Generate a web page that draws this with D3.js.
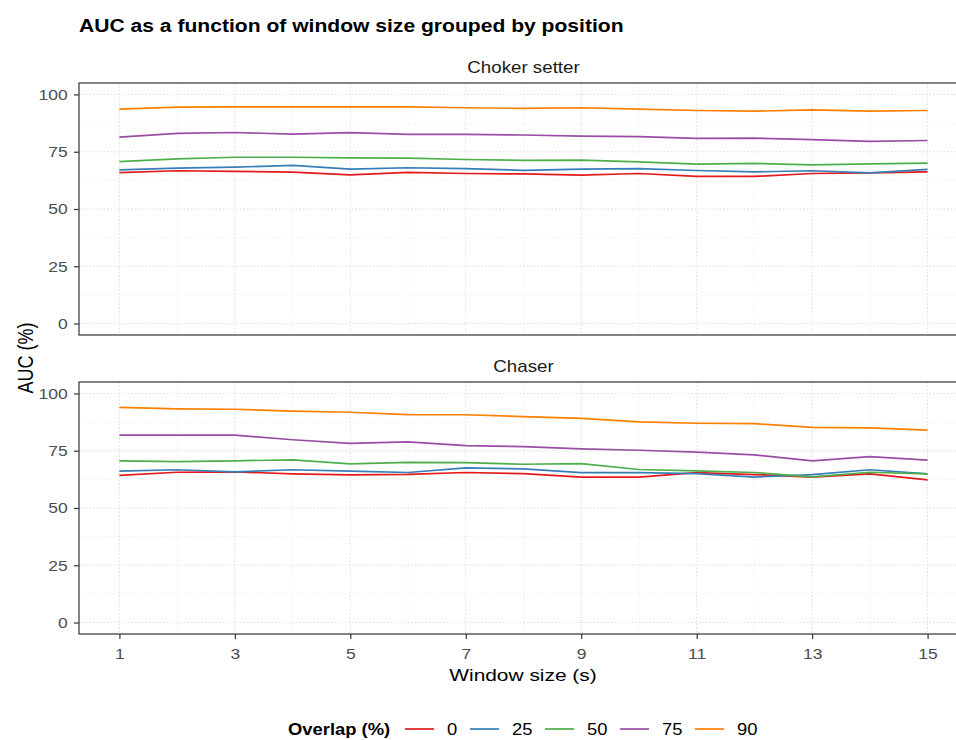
<!DOCTYPE html>
<html>
<head>
<meta charset="utf-8">
<script src="https://cdn.jsdelivr.net/npm/d3@7.9.0/dist/d3.min.js"></script>
<style>
  body { margin: 0; background: #fff; }
  svg { font-family: "Liberation Sans", Arial, sans-serif; display: block; }
</style>
</head>
<body>
<svg id="chart" width="956" height="740"></svg>
<script>
const windowSizes = [1, 2, 3, 4, 5, 6, 7, 8, 9, 10, 11, 12, 13, 14, 15];
const overlaps = ['0', '25', '50', '75', '90'];
const positions = ['Choker setter', 'Chaser'];
const yTicks = [0, 25, 50, 75, 100];
const xTicks = [1, 3, 5, 7, 9, 11, 13, 15];

// AUC (%) per overlap, one value per window size
const chokerSetter = {
  '0':  [65.9, 66.7, 66.4, 66.1, 64.9, 66.0, 65.5, 65.3, 64.8, 65.5, 64.2, 64.2, 65.5, 65.8, 66.2],
  '25': [67.1, 67.8, 68.3, 69.0, 67.4, 68.0, 67.6, 66.9, 67.4, 67.6, 66.8, 66.2, 66.7, 65.8, 67.3],
  '50': [70.7, 71.9, 72.6, 72.6, 72.3, 72.2, 71.6, 71.2, 71.3, 70.6, 69.6, 69.9, 69.3, 69.7, 70.0],
  '75': [81.4, 83.0, 83.4, 82.7, 83.3, 82.6, 82.6, 82.3, 81.8, 81.6, 80.8, 80.9, 80.3, 79.5, 79.9],
  '90': [93.6, 94.5, 94.6, 94.6, 94.6, 94.6, 94.2, 93.9, 94.2, 93.6, 93.0, 92.7, 93.3, 92.7, 93.0]
};
const chaser = {
  '0':  [64.2, 65.6, 65.8, 64.9, 64.5, 64.7, 65.5, 65.0, 63.5, 63.5, 65.4, 64.6, 63.5, 64.9, 62.3],
  '25': [66.1, 66.7, 65.8, 66.7, 66.1, 65.5, 67.5, 67.1, 65.4, 65.4, 65.0, 63.5, 64.6, 66.7, 64.9],
  '50': [70.6, 70.2, 70.6, 71.0, 69.3, 69.9, 69.8, 69.1, 69.4, 66.8, 66.2, 65.5, 63.6, 65.6, 64.9],
  '75': [81.8, 81.8, 81.8, 79.8, 78.2, 78.9, 77.2, 76.8, 75.8, 75.2, 74.4, 73.2, 70.6, 72.4, 70.9],
  '90': [93.9, 93.3, 93.1, 92.3, 91.8, 90.8, 90.7, 89.9, 89.1, 87.6, 87.0, 86.8, 85.2, 85.0, 84.0]
};
const panelData = [chokerSetter, chaser];

const colors = d3.scaleOrdinal()
  .domain(overlaps)
  .range(['#E41A1C', '#377EB8', '#4DAF4A', '#984EA3', '#FF7F00']);

const svg = d3.select('#chart');
const left = 79, right = 968;
const panelTops = [83, 382];
const panelH = 252;

const x = d3.scaleLinear().domain([0.3, 15.7]).range([left, right]);

// text is a bit wider than usual in the original, so stretch it sideways
function label(sel, tx, ty, str, size, sx, opts = {}) {
  return sel.append('text')
    .attr('transform', `translate(${tx},${ty}) scale(${sx},1)`)
    .attr('text-anchor', opts.anchor || 'start')
    .attr('font-size', size)
    .attr('font-weight', opts.bold ? 'bold' : 'normal')
    .attr('fill', opts.fill || '#000')
    .text(str);
}

label(svg, 79, 32, 'AUC as a function of window size grouped by position', 19, 1.11, { bold: true });

positions.forEach((pos, i) => {
  const top = panelTops[i];
  const y = d3.scaleLinear().domain([-5, 105]).range([top + panelH, top]);
  const g = svg.append('g');

  label(svg, (left + right) / 2, top - 10, pos, 16, 1.17, { anchor: 'middle', fill: '#1a1a1a' });

  // minor grid
  d3.range(2, 15, 2).forEach(v => {
    g.append('line').attr('x1', x(v)).attr('x2', x(v))
      .attr('y1', top).attr('y2', top + panelH)
      .attr('stroke', '#ebebeb').attr('stroke-width', 0.8).attr('stroke-dasharray', '1.5,2');
  });
  [12.5, 37.5, 62.5, 87.5].forEach(v => {
    g.append('line').attr('x1', left).attr('x2', right)
      .attr('y1', y(v)).attr('y2', y(v))
      .attr('stroke', '#ebebeb').attr('stroke-width', 0.8).attr('stroke-dasharray', '1.5,2');
  });
  // major grid
  xTicks.forEach(v => {
    g.append('line').attr('x1', x(v)).attr('x2', x(v))
      .attr('y1', top).attr('y2', top + panelH)
      .attr('stroke', '#dcdcdc').attr('stroke-width', 1).attr('stroke-dasharray', '1.5,2');
  });
  yTicks.forEach(v => {
    g.append('line').attr('x1', left).attr('x2', right)
      .attr('y1', y(v)).attr('y2', y(v))
      .attr('stroke', '#dcdcdc').attr('stroke-width', 1).attr('stroke-dasharray', '1.5,2');
  });

  const line = d3.line()
    .x((d, j) => x(windowSizes[j]))
    .y(d => y(d));

  overlaps.forEach(o => {
    g.append('path')
      .datum(panelData[i][o])
      .attr('d', line)
      .attr('fill', 'none')
      .attr('stroke', colors(o))
      .attr('stroke-width', 1.7);
  });

  // border
  g.append('rect')
    .attr('x', left).attr('y', top)
    .attr('width', right - left).attr('height', panelH)
    .attr('fill', 'none').attr('stroke', '#333').attr('stroke-width', 1.2);

  const yAxis = d3.axisLeft(y).tickValues(yTicks).tickSize(5).tickPadding(5);
  const ya = svg.append('g').attr('transform', `translate(${left},0)`).call(yAxis);
  ya.select('.domain').remove();
  ya.selectAll('line').attr('stroke', '#333').attr('stroke-width', 1.2);
  ya.selectAll('text').attr('font-size', 15.5).attr('fill', '#4d4d4d')
    .attr('font-family', '"Liberation Sans", Arial, sans-serif')
    .attr('transform', 'scale(1.13,1)');

  if (i === 1) {
    const xAxis = d3.axisBottom(x).tickValues(xTicks).tickSize(5).tickPadding(9);
    const xa = svg.append('g').attr('transform', `translate(0,${top + panelH})`).call(xAxis);
    xa.select('.domain').remove();
    xa.selectAll('line').attr('stroke', '#333').attr('stroke-width', 1.2);
    xa.selectAll('text').attr('font-size', 15.5).attr('fill', '#4d4d4d')
      .attr('font-family', '"Liberation Sans", Arial, sans-serif')
      .attr('transform', 'scale(1.13,1)');
  }
});

label(svg, 523, 681, 'Window size (s)', 17, 1.23, { anchor: 'middle' });

svg.append('text')
  .attr('transform', 'translate(33,358) rotate(-90) scale(1,1.2)')
  .attr('text-anchor', 'middle').attr('font-size', 18).attr('fill', '#000')
  .text('AUC (%)');

// legend
const legY = 729;
const leg = svg.append('g');
label(leg, 288, legY + 6, 'Overlap (%)', 16, 1.15, { bold: true });
const keyX = [405, 470, 545, 620, 695];
overlaps.forEach((o, k) => {
  leg.append('line')
    .attr('x1', keyX[k]).attr('x2', keyX[k] + 29)
    .attr('y1', legY).attr('y2', legY)
    .attr('stroke', colors(o)).attr('stroke-width', 1.7);
  label(leg, keyX[k] + 42, legY + 6, o, 16, 1.15);
});
</script>
</body>
</html>
